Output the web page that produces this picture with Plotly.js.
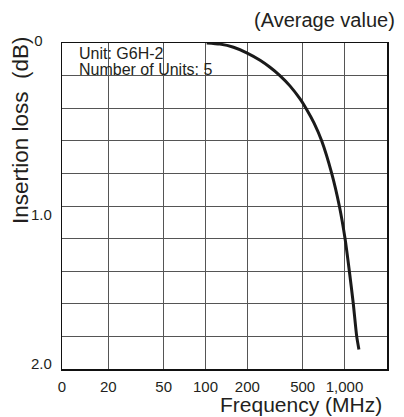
<!DOCTYPE html>
<html>
<head>
<meta charset="utf-8">
<script src="https://cdn.plot.ly/plotly-3.0.1.min.js"></script>
<style>html,body{margin:0;padding:0;background:#fff;}#chart{width:404px;height:417px;}</style>
</head>
<body>
<div id="chart"></div>
<script>
// Data
const freqMHz = [102, 127, 159, 198, 247, 291, 343, 405, 479, 528, 603, 685, 809, 918, 1009, 1084, 1157, 1224, 1270];
const lossDB  = [0, 0.007, 0.026, 0.06, 0.106, 0.149, 0.2, 0.263, 0.343, 0.4, 0.49, 0.6, 0.8, 1.0, 1.2, 1.4, 1.6, 1.8, 1.88];

const xTickVals = [9.28, 20, 50, 100, 200, 500, 1000];
const xTickText = ['0', '20', '50', '100', '200', '500', '1,000'];
const yTickVals = [0];
const yTickText = ['0'];
const yLabelVals = [1.0, 2.0];
const yLabelText = ['1.0', '2.0'];

const FONT = 'Liberation Sans, Arial, Helvetica, sans-serif';
const TXT = '#231f20';

// per-label placement nudges (layout only): [x shift px, y shift px]
const yLabelShift = [[-8, -8], [-8, 6]];

const annotations = yLabelVals.map((v, i) => ({
  xref: 'paper', yref: 'y', x: 0, y: v,
  text: yLabelText[i],
  xanchor: 'right', yanchor: 'middle', showarrow: false,
  xshift: yLabelShift[i][0], yshift: yLabelShift[i][1],
  font: {family: FONT, size: 15, color: TXT}
}));

annotations.push(
  {xref: 'paper', yref: 'paper', x: 0.046, y: 0.967, text: 'Unit: G6H-2',
   xanchor: 'left', yanchor: 'middle', showarrow: false,
   font: {family: FONT, size: 16, color: TXT}},
  {xref: 'paper', yref: 'paper', x: 0.046, y: 0.918, text: 'Number of Units: 5',
   xanchor: 'left', yanchor: 'middle', showarrow: false,
   font: {family: FONT, size: 16, color: TXT}},
  {xref: 'paper', yref: 'paper', x: 1.03, y: 1.0, yshift: 23, text: '(Average value)',
   xanchor: 'right', yanchor: 'middle', showarrow: false,
   font: {family: FONT, size: 20, color: TXT}},
  {xref: 'paper', yref: 'paper', x: 0.992, y: 0, yshift: -35, text: 'Frequency (MHz)',
   xanchor: 'right', yanchor: 'middle', showarrow: false,
   font: {family: FONT, size: 21, color: TXT}},
  {xref: 'paper', yref: 'paper', x: -0.13, y: 0.7325, text: 'Insertion loss\u00a0\u00a0(dB)',
   textangle: -90, xanchor: 'center', yanchor: 'middle', showarrow: false,
   font: {family: FONT, size: 22.5, color: TXT}}
);

const trace = {
  x: freqMHz, y: lossDB, type: 'scatter', mode: 'lines',
  line: {color: '#1a1a1a', width: 3, shape: 'spline', smoothing: 0.6},
  hoverinfo: 'skip'
};

const layout = {
  width: 404, height: 417,
  margin: {l: 62, r: 17, t: 43, b: 48},
  paper_bgcolor: '#fff', plot_bgcolor: '#fff',
  showlegend: false,
  font: {family: FONT, color: TXT},
  xaxis: {
    type: 'log', range: [0.9676, 3.3058],
    tickvals: xTickVals, ticktext: xTickText,
    showgrid: true, gridcolor: '#555', gridwidth: 1,
    showline: true, linecolor: '#111', linewidth: 1.5, mirror: true,
    ticks: '', ticklabelstandoff: 3,
    tickfont: {family: FONT, size: 15, color: TXT},
    zeroline: false, fixedrange: true
  },
  yaxis: {
    range: [2, 0],
    tickvals: yTickVals, ticktext: yTickText,
    showgrid: true, gridcolor: '#555', gridwidth: 1,
    minor: {tick0: 0, dtick: 0.2, showgrid: true, gridcolor: '#555', gridwidth: 1, ticks: ''},
    showline: true, linecolor: '#111', linewidth: 1.5, mirror: true,
    ticks: '', ticklabelstandoff: 15, ticklabelshift: 2,
    tickfont: {family: FONT, size: 15, color: TXT},
    zeroline: false, fixedrange: true
  },
  shapes: [{
    type: 'rect', xref: 'paper', yref: 'paper',
    x0: 0.0215, x1: 0.477, y0: 0.8796, y1: 0.996,
    fillcolor: '#fff', line: {width: 0}, layer: 'between'
  }],
  annotations: annotations
};

Plotly.newPlot('chart', [trace], layout, {displayModeBar: false, staticPlot: true});
</script>
</body>
</html>
